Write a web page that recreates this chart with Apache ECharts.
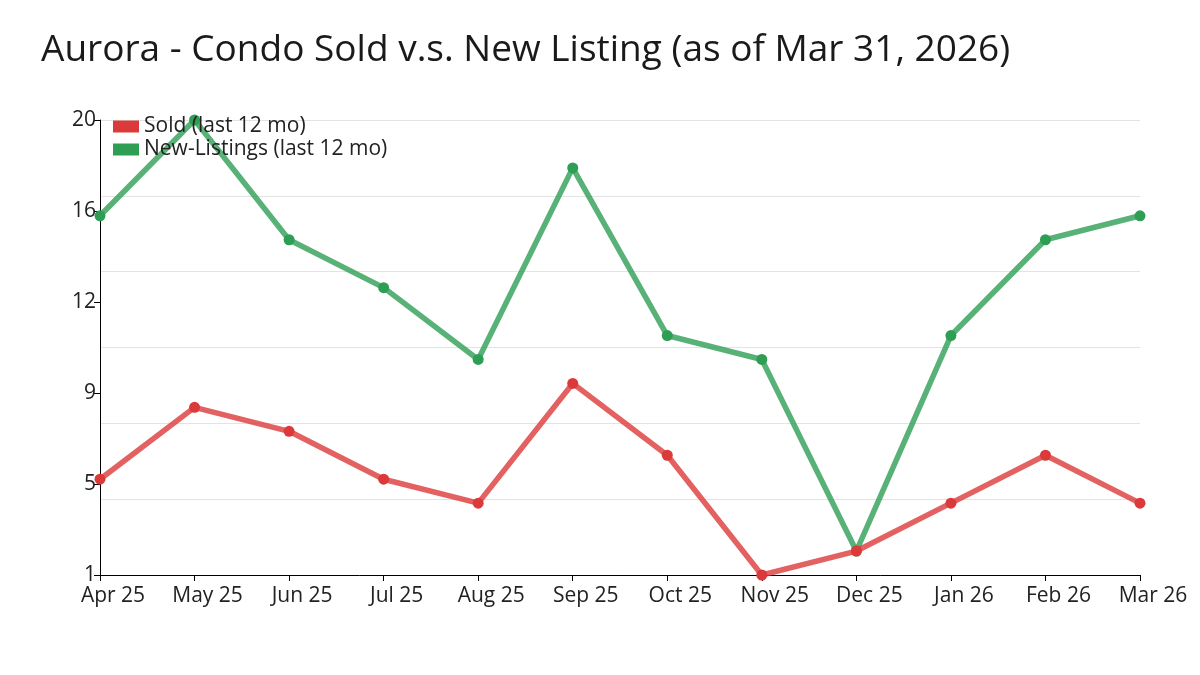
<!DOCTYPE html>
<html>
<head>
<meta charset="utf-8">
<script src="https://cdn.jsdelivr.net/npm/echarts@6/dist/echarts.min.js"></script>
<style>
html,body{margin:0;padding:0;background:#fff;}
#chart{width:1200px;height:675px;}
</style>
</head>
<body>
<div id="chart"></div>
<script>
const categories = ['Apr 25','May 25','Jun 25','Jul 25','Aug 25','Sep 25','Oct 25','Nov 25','Dec 25','Jan 26','Feb 26','Mar 26'];
const sold = [5, 8, 7, 5, 4, 9, 6, 1, 2, 4, 6, 4];
const newListings = [16, 20, 15, 13, 10, 18, 11, 10, 2, 11, 15, 16];
const yMin = 1;
const yMax = 20;
const labelSteps = 5;   // y labels: 1, 5, 9, 12, 16, 20
const gridSteps = 6;    // light grid lines
const seriesNames = ['Sold (last 12 mo)', 'New-Listings (last 12 mo)'];
const colors = ['#dc3a3a', '#2e9e55'];

const font = '"Open Sans", "Noto Sans", sans-serif';
const chart = echarts.init(document.getElementById('chart'));
const span = yMax - yMin;

chart.setOption({
  animation: false,
  backgroundColor: '#fff',
  title: {
    text: 'Aurora - Condo Sold v.s. New Listing (as of Mar 31, 2026)',
    left: 36, top: 27,
    textStyle: {fontFamily: font, fontSize: 37, fontWeight: 'normal', color: '#1a1a1a'}
  },
  legend: {
    orient: 'vertical',
    left: 108, top: 111,
    itemWidth: 26, itemHeight: 12, itemGap: 2,
    icon: 'rect',
    textStyle: {fontFamily: font, fontSize: 21, color: '#222'},
    data: seriesNames
  },
  grid: {left: 100, right: 60, top: 120, bottom: 100, containLabel: false},
  xAxis: {
    type: 'category',
    data: categories,
    boundaryGap: false,
    axisLine: {show: true, lineStyle: {color: '#000', width: 1}},
    axisTick: {show: true, length: 6, lineStyle: {color: '#000'}},
    axisLabel: {fontFamily: font, fontSize: 21, color: '#222', margin: 11, interval: 0, padding: [0, 0, 0, 26]},
    splitLine: {show: false}
  },
  yAxis: [
    {
      type: 'value', min: yMin, max: yMax,
      show: false, splitLine: {show: false}
    },
    {
      type: 'value', min: 0, max: span * labelSteps, interval: span,
      position: 'left',
      axisLine: {show: true, lineStyle: {color: '#000'}},
      axisTick: {show: true, length: 6, lineStyle: {color: '#000'}},
      axisLabel: {
        fontFamily: font, fontSize: 21, color: '#222', margin: 4,
        formatter: v => String(Math.round(yMin + v / labelSteps))
      },
      splitLine: {show: false}
    },
    {
      type: 'value', min: 0, max: span * gridSteps, interval: span,
      position: 'left',
      axisLine: {show: false}, axisTick: {show: false}, axisLabel: {show: false},
      splitLine: {show: true, lineStyle: {color: '#e3e3e3', width: 1}}
    }
  ],
  series: [
    {
      name: seriesNames[0], type: 'line', yAxisIndex: 0, data: sold,
      symbol: 'circle', symbolSize: 11, color: colors[0],
      itemStyle: {color: colors[0]},
      lineStyle: {width: 5.5, color: colors[0], opacity: 0.8},
      z: 3
    },
    {
      name: seriesNames[1], type: 'line', yAxisIndex: 0, data: newListings,
      symbol: 'circle', symbolSize: 11, color: colors[1],
      itemStyle: {color: colors[1]},
      lineStyle: {width: 5.5, color: colors[1], opacity: 0.8},
      z: 2
    }
  ]
});
</script>
</body>
</html>
